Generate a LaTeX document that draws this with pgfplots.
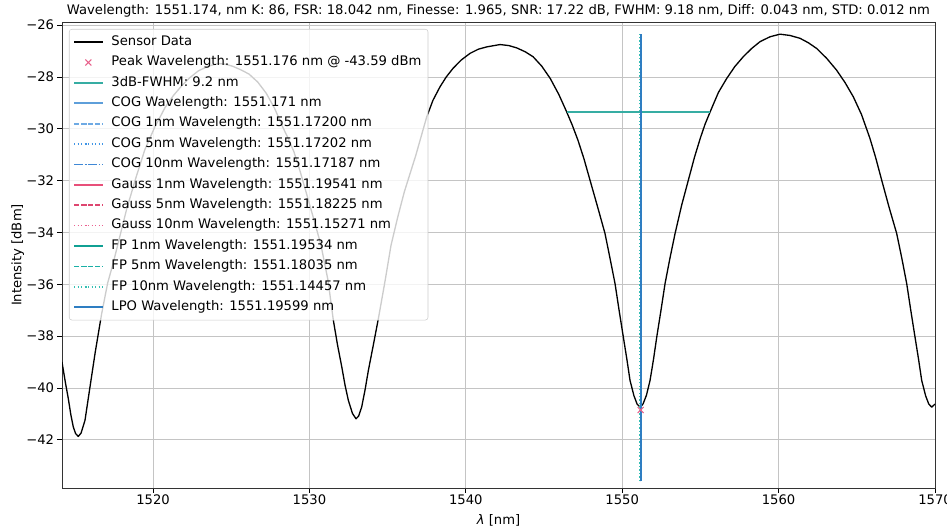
\documentclass[border=0pt]{standalone}
\usepackage{fontspec}
\setmainfont{DejaVu Sans}
\usepackage{pgfplots}
\pgfplotsset{compat=1.18}
\definecolor{gridc}{HTML}{C4C4C4}
\definecolor{legc}{HTML}{CCCCCC}
\definecolor{peakc}{HTML}{E8608A}
\definecolor{fwhmc}{HTML}{36ADA3}
\definecolor{cogc}{HTML}{5E9FDA}
\definecolor{cogA}{HTML}{6EAAE4}
\definecolor{cogB}{HTML}{3F95E6}
\definecolor{cogC}{HTML}{3F88D6}
\definecolor{gaA}{HTML}{E8507A}
\definecolor{gaB}{HTML}{DE4670}
\definecolor{gaC}{HTML}{EB6090}
\definecolor{fpA}{HTML}{10A093}
\definecolor{fpB}{HTML}{1AB0A6}
\definecolor{fpC}{HTML}{34BFB3}
\definecolor{lpoc}{HTML}{2E7EC2}
\begin{document}
\begin{tikzpicture}
\begin{axis}[
  at={(0pt,0pt)}, anchor=south west,
  scale only axis, width=663.48pt, height=354.16pt,
  xmin=1514.18, xmax=1570, ymin=-43.86, ymax=-25.88,
  xtick={1520,1530,1540,1550,1560,1570},
  xticklabels={1520,1530,1540,1550,1560,1570},
  ytick={-42,-40,-38,-36,-34,-32,-30,-28,-26},
  yticklabels={−42,−40,−38,−36,−34,−32,−30,−28,−26},
  xtick pos=bottom, ytick pos=left,
  tick align=outside, major tick length=3.5pt,
  tick style={black, line width=0.6pt},
  grid=major, major grid style={gridc, line width=0.6pt},
  axis line style={black!80, line width=0.6pt},
  ticklabel style={font=\fontsize{10}{12}\selectfont},
  xticklabel style={anchor=north, inner sep=0pt, yshift=-1.2pt},
  yticklabel style={anchor=east, inner sep=0pt, xshift=-2.3pt},
  title={Wavelength: 1551.174, nm K: 86, FSR: 18.042 nm, Finesse: 1.965, SNR: 17.22 dB, FWHM: 9.18 nm, Diff: 0.043 nm, STD: 0.012 nm},
  title style={at={(axis description cs:0.5,1.0)}, anchor=base, yshift=0pt, inner sep=0pt, font=\fontsize{10}{12}\selectfont},
  xlabel={{\itshape λ} [nm]},
  xlabel style={at={(axis description cs:0.5,-0.0785)}, anchor=base, inner sep=0pt, font=\fontsize{10}{12}\selectfont},
  ylabel={Intensity [dBm]},
  ylabel style={at={(axis description cs:-0.0464,0.5)}, anchor=base, inner sep=0pt, font=\fontsize{10}{12}\selectfont},
  legend cell align=left,
  legend image code/.code={\draw[mark repeat=2,mark phase=2,#1] plot coordinates {(0pt,0pt) (10.8pt,0pt) (21.6pt,0pt)};},
  legend style={at={(axis description cs:0.008,0.985)}, anchor=north west,
    draw=legc, fill=white, fill opacity=0.8, text opacity=1, draw opacity=1,
    rounded corners=2pt, font=\fontsize{10}{12}\selectfont,
    inner xsep=3pt, inner ysep=2pt, row sep=0pt,
    /tikz/every odd column/.append style={column sep=4pt},
    nodes={text height=7.5pt, text depth=2.5pt, inner ysep=2.75pt}},
]
\addplot[black, line width=1pt, line join=round] coordinates {
(1514.18,-39.00) (1514.40,-39.80) (1514.58,-40.40) (1514.75,-41.05) (1514.90,-41.50)
(1515.05,-41.76) (1515.22,-41.87) (1515.40,-41.74) (1515.65,-41.25) (1515.97,-39.96)
(1516.29,-38.68) (1516.72,-37.12) (1517.10,-35.95) (1517.46,-35.17) (1517.90,-34.10)
(1518.31,-33.11) (1518.90,-31.90) (1519.48,-30.80) (1520.10,-29.95) (1520.76,-29.19)
(1521.30,-28.72) (1521.82,-28.35) (1522.35,-28.03) (1522.89,-27.77) (1523.50,-27.59)
(1524.17,-27.48) (1524.65,-27.51) (1525.10,-27.59) (1525.60,-27.72) (1526.14,-27.89)
(1526.70,-28.20) (1527.24,-28.63) (1527.78,-29.22) (1528.29,-29.93) (1528.65,-30.38)
(1529.01,-30.89) (1529.40,-31.63) (1529.78,-32.43) (1530.26,-33.45) (1530.74,-34.49)
(1531.19,-35.85) (1531.53,-37.39) (1531.80,-38.35) (1532.07,-39.19) (1532.28,-39.90)
(1532.49,-40.48) (1532.75,-40.98) (1532.98,-41.19) (1533.15,-41.08) (1533.34,-40.74)
(1533.55,-40.10) (1533.77,-39.32) (1534.10,-38.30) (1534.41,-37.32) (1534.80,-36.00)
(1535.22,-34.49) (1535.65,-33.40) (1536.07,-32.43) (1536.45,-31.70) (1536.80,-31.03)
(1537.50,-29.54) (1537.90,-28.90) (1538.35,-28.38) (1538.75,-28.00) (1539.18,-27.67)
(1539.70,-27.35) (1540.27,-27.09) (1540.80,-26.93) (1541.34,-26.84) (1542.19,-26.75)
(1542.75,-26.79) (1543.26,-26.88) (1543.80,-27.03) (1544.30,-27.22) (1544.85,-27.58)
(1545.40,-28.06) (1545.95,-28.68) (1546.45,-29.35) (1546.80,-29.85) (1547.17,-30.44)
(1547.55,-31.15) (1547.94,-31.98) (1548.42,-33.00) (1548.90,-34.04) (1549.22,-35.00)
(1549.54,-35.97) (1549.80,-37.00) (1550.07,-38.03) (1550.30,-38.90) (1550.50,-39.71)
(1550.75,-40.30) (1550.95,-40.62) (1551.14,-40.74) (1551.33,-40.62) (1551.55,-40.28)
(1551.78,-39.71) (1552.00,-38.90) (1552.21,-38.03) (1552.48,-37.00) (1552.74,-35.97)
(1553.05,-35.00) (1553.38,-34.04) (1553.80,-32.95) (1554.23,-31.98) (1554.62,-31.10)
(1555.00,-30.35) (1555.30,-29.82) (1555.62,-29.35) (1556.15,-28.60) (1556.68,-28.06)
(1557.20,-27.60) (1557.74,-27.22) (1558.28,-26.90) (1558.81,-26.64) (1559.45,-26.45)
(1560.09,-26.35) (1560.73,-26.40) (1561.37,-26.51) (1561.90,-26.68) (1562.43,-26.90)
(1563.07,-27.28) (1563.71,-27.74) (1564.25,-28.22) (1564.78,-28.77) (1565.30,-29.45)
(1565.84,-30.37) (1566.20,-31.10) (1566.59,-31.98) (1567.05,-33.00) (1567.55,-34.04)
(1567.88,-35.00) (1568.19,-35.97) (1568.45,-37.00) (1568.72,-38.03) (1568.95,-38.90)
(1569.15,-39.71) (1569.40,-40.30) (1569.60,-40.62) (1569.79,-40.74) (1570.00,-40.62)
};
\addlegendentry{Sensor Data}
\addplot[only marks, mark=x, mark size=3.2pt, peakc, mark options={line width=0.8pt}] coordinates {(1551.176,-40.85)};
\addlegendentry{Peak Wavelength: 1551.176 nm @ -43.59 dBm}
\addplot[fwhmc, line width=1.3pt] coordinates {(1546.45,-29.35) (1555.62,-29.35)};
\addlegendentry{3dB-FWHM: 9.2 nm}
\addplot[cogc, line width=1.3pt] coordinates {(1551.171,-43.59) (1551.171,-26.35)};
\addlegendentry{COG Wavelength: 1551.171 nm}
\addplot[cogA, line width=1.3pt, dash pattern=on 3.7pt off 1.6pt] coordinates {(1551.172,-43.59) (1551.172,-26.35)};
\addlegendentry{COG 1nm Wavelength: 1551.17200 nm}
\addplot[cogB, line width=1.3pt, dash pattern=on 1pt off 1.65pt] coordinates {(1551.17202,-43.59) (1551.17202,-26.35)};
\addlegendentry{COG 5nm Wavelength: 1551.17202 nm}
\addplot[cogC, line width=1.3pt, dash pattern=on 6.4pt off 1.6pt on 1pt off 1.6pt] coordinates {(1551.17187,-43.59) (1551.17187,-26.35)};
\addlegendentry{COG 10nm Wavelength: 1551.17187 nm}
\addplot[gaA, line width=1.3pt] coordinates {(1551.19541,-43.59) (1551.19541,-26.35)};
\addlegendentry{Gauss 1nm Wavelength: 1551.19541 nm}
\addplot[gaB, line width=1.3pt, dash pattern=on 3.7pt off 1.6pt] coordinates {(1551.18225,-43.59) (1551.18225,-26.35)};
\addlegendentry{Gauss 5nm Wavelength: 1551.18225 nm}
\addplot[gaC, line width=1.3pt, dash pattern=on 1pt off 1.65pt] coordinates {(1551.15271,-43.59) (1551.15271,-26.35)};
\addlegendentry{Gauss 10nm Wavelength: 1551.15271 nm}
\addplot[fpA, line width=1.3pt] coordinates {(1551.19534,-43.59) (1551.19534,-26.35)};
\addlegendentry{FP 1nm Wavelength: 1551.19534 nm}
\addplot[fpB, line width=1.3pt, dash pattern=on 3.7pt off 1.6pt] coordinates {(1551.18035,-43.59) (1551.18035,-26.35)};
\addlegendentry{FP 5nm Wavelength: 1551.18035 nm}
\addplot[fpC, line width=1.3pt, dash pattern=on 1pt off 1.65pt] coordinates {(1551.14457,-43.59) (1551.14457,-26.35)};
\addlegendentry{FP 10nm Wavelength: 1551.14457 nm}
\addplot[lpoc, line width=1.5pt] coordinates {(1551.19599,-43.59) (1551.19599,-26.35)};
\addlegendentry{LPO Wavelength: 1551.19599 nm}
\end{axis}
\pgfresetboundingbox
\useasboundingbox (-47.12pt,-30.4pt) rectangle (672.6pt,370.88pt);
\end{tikzpicture}
\end{document}
